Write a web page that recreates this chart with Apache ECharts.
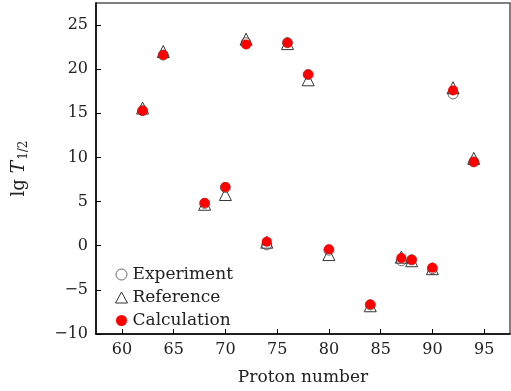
<!DOCTYPE html>
<html>
<head>
    <meta charset="utf-8">
    <title>lg T1/2 vs proton number</title>
    <script src="https://cdn.jsdelivr.net/npm/echarts@6.0.0/dist/echarts.min.js"></script>
</head>
<body style="margin:0">
    <div id="main" style="width: 511px;height:391px;"></div>

<script>
// 质子数
const protonNumbers = [62, 64, 68, 70, 72, 74, 76, 78, 80, 84, 87, 88, 90, 92, 94];
// 实验值
const experiment = [15.3, 21.6, 4.8, 6.6, 23.0, 0.1, 23.0, 19.4, -0.5, -6.7, -1.7, -1.6, -2.6, 17.2, 9.5];
// 参考值
const reference = [15.6, 22.0, 4.7, 5.8, 23.4, 0.4, 22.9, 18.8, -1.0, -6.8, -1.3, -1.7, -2.6, 17.9, 9.9];
// 计算值
const calculation = [15.3, 21.6, 4.85, 6.65, 22.8, 0.45, 23.0, 19.4, -0.4, -6.65, -1.4, -1.6, -2.5, 17.6, 9.5];
const xTicks = [60, 65, 70, 75, 80, 85, 90, 95];
const yTicks = [-10, -5, 0, 5, 10, 15, 20, 25];

const serif = '"DejaVu Serif", "Liberation Serif", serif';

function pairs(ys) {
    return protonNumbers.map((x, i) => [x, ys[i]]);
}

const myChart = echarts.init(document.getElementById('main'));

const option = {
    animation: false,
    grid: {
        left: 96, right: 1, top: 3, bottom: 55,
        show: true, borderColor: '#555', borderWidth: 1.5
    },
    legend: {
        orient: 'vertical',
        left: 110, top: 261,
        itemWidth: 12, itemHeight: 11, itemGap: 6,
        itemStyle: { borderWidth: 1 },
        textStyle: { fontFamily: serif, fontSize: 17, color: '#222' },
        data: ['Experiment', 'Reference', 'Calculation']
    },
    xAxis: {
        type: 'value',
        min: 57.5, max: 97.5,
        name: 'Proton number',
        nameLocation: 'middle',
        nameGap: 35,
        nameTextStyle: { fontFamily: serif, fontSize: 17, color: '#222' },
        axisLine: { onZero: false, lineStyle: { color: '#000', width: 1.5 } },
        axisTick: { inside: true, length: 5, customValues: xTicks, lineStyle: { color: '#000' } },
        axisLabel: { customValues: xTicks, fontFamily: serif, fontSize: 16, color: '#222', margin: 8 },
        splitLine: { show: false }
    },
    yAxis: {
        type: 'value',
        min: -10, max: 27.5,
        name: '{a|lg }{t|T}{s|1/2}',
        nameLocation: 'middle',
        nameGap: 66,
        nameTextStyle: {
            fontFamily: serif, fontSize: 18, color: '#222',
            rich: {
                a: { fontFamily: serif, fontSize: 18, color: '#222' },
                t: { fontFamily: serif, fontSize: 19, fontStyle: 'italic', color: '#222' },
                s: { fontFamily: serif, fontSize: 12, color: '#222', verticalAlign: 'bottom', padding: [10, 0, 0, 1] }
            }
        },
        axisLine: { show: true, onZero: false, lineStyle: { color: '#000', width: 1.5 } },
        axisTick: { show: true, inside: true, length: 5, customValues: yTicks, lineStyle: { color: '#000' } },
        axisLabel: {
            customValues: yTicks,
            fontFamily: serif, fontSize: 16, color: '#222', margin: 8,
            formatter: v => (v < 0 ? '\u2212' + Math.abs(v) : String(v))
        },
        splitLine: { show: false }
    },
    series: [
        {
            name: 'Experiment',
            type: 'scatter',
            symbol: 'circle',
            symbolSize: 10,
            itemStyle: { color: '#fff', borderColor: '#666', borderWidth: 1, opacity: 1 },
            data: pairs(experiment)
        },
        {
            name: 'Reference',
            type: 'scatter',
            symbol: 'triangle',
            symbolSize: 12,
            itemStyle: { color: 'rgba(255,255,255,0)', borderColor: '#333', borderWidth: 1, opacity: 1 },
            data: pairs(reference)
        },
        {
            name: 'Calculation',
            type: 'scatter',
            symbol: 'circle',
            symbolSize: 10,
            itemStyle: { color: '#ff0000', opacity: 1 },
            data: pairs(calculation)
        }
    ]
};
myChart.setOption(option);
</script>
</body>
</html>
